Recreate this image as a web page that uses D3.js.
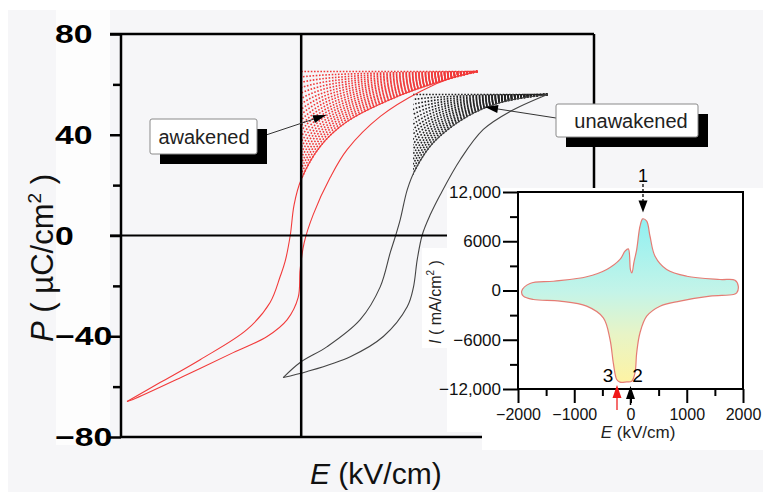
<!DOCTYPE html>
<html lang="en">
<head>
<meta charset="UTF-8">
<title>P-E loops, awakened vs unawakened</title>
<script src="https://d3js.org/d3.v7.min.js"></script>
<style>
  body { margin: 0; background: #fff; }
  text { font-family: Arial, "Liberation Sans", sans-serif; }
</style>
</head>
<body>
<svg width="763" height="492"></svg>
<script>
// ---- main P-E loops, [E (kV/cm), P (uC/cm2)] ----
const awakenedUp = [[-1160,-65.9],[-1120,-65.1],[-787,-56],[-453,-46.5],[-227,-40.1],[-93,-33.4],[-20,-24.6],[-7,-13.5],[20,-2.8],[80,8.3],[193,23],[307,34.2],[527,47.3],[793,57.2],[1013,62.8],[1173,65.1]];
const awakenedDown = [[1173,65.1],[927,61.2],[640,55.2],[307,45.3],[127,35.4],[0,22.2],[-47,12.3],[-73,0],[-107,-10.3],[-140,-16.3],[-207,-26.6],[-360,-37.3],[-673,-49.3],[-940,-58.4],[-1160,-65.9]];
const unawakenedUp = [[-120,-56.4],[40,-54],[327,-48.1],[547,-40.1],[707,-28.2],[747,-20.7],[773,-9.5],[807,0.4],[860,8.3],[927,16.3],[1060,30.2],[1213,42.1],[1393,49.3],[1640,56]];
const unawakenedDown = [[1640,56],[1327,52.8],[1107,47.3],[880,36.9],[760,26.2],[707,18.3],[660,6.4],[627,-0.4],[593,-6.8],[527,-20.3],[393,-33.4],[173,-44.1],[-7,-50.4],[-120,-56.4]];
const hatchStartE = { awakened: 0, unawakened: 745 };

const pTicks = [80, 40, 0, -40, -80];
const pMinor = [60, 20, -20, -60];

// ---- inset I-E curve, [E (kV/cm), I (mA/cm2)] ----
const insetLoop = [[-1934,-85],[-1787,850],[-1372,1130],[-779,1670],[-423,2560],[-187,3780],[-98,4790],[-39,5070],[0,2500],[25,2150],[60,3400],[110,4990],[169,7830],[217,8730],[288,8440],[347,6610],[436,4180],[643,2560],[999,1740],[1591,1340],[1858,1260],[1916,525],[1888,-280],[1828,-490],[1413,-690],[880,-1300],[524,-1910],[288,-3130],[169,-5150],[110,-7590],[80,-10030],[21,-11050],[-68,-11130],[-187,-11170],[-245,-10840],[-306,-8810],[-364,-5970],[-483,-3330],[-779,-1910],[-1253,-1300],[-1727,-1100],[-1905,-690]];
const insetXTicks = [-2000, -1000, 0, 1000, 2000];
const insetXMinor = [-1500, -500, 500, 1500];
const insetYTicks = [12000, 6000, 0, -6000, -12000];
const insetYMinor = [9000, 3000, -3000, -9000];
const peakMarks = [{ label: "1", E: 222 }, { label: "2", E: 0 }, { label: "3", E: -240 }];

const svg = d3.select("svg");

// background
svg.append("rect").attr("x", 8).attr("y", 10).attr("width", 755).attr("height", 482).attr("fill", "#f6f6f8");
svg.append("rect").attr("x", 56).attr("y", 10).attr("width", 54).attr("height", 435).attr("fill", "#fdfdfd");

const x = d3.scaleLinear().domain([-1200, 1950]).range([121, 594]);
const y = d3.scaleLinear().domain([-80, 80]).range([437, 34]);

const line = d3.line().x(d => x(d[0])).y(d => y(d[1])).curve(d3.curveCatmullRom.alpha(0.5));

// hatching (dotted curves between the tip level and the descending branch)
function hatch(branch, startE, n, color, id) {
  const tip = branch[0];
  svg.append("clipPath").attr("id", id)
    .append("rect").attr("x", x(startE)).attr("y", y(tip[1]) - 3)
    .attr("width", x(tip[0]) - x(startE) + 3).attr("height", y(-80) - y(tip[1]));
  const yTop = y(tip[1]);
  const g = svg.append("g").attr("clip-path", `url(#${id})`);
  for (let k = 0; k <= n; k++) {
    const t = k / n;
    const hl = d3.line().x(d => x(d[0])).y(d => yTop + t * (y(d[1]) - yTop)).curve(d3.curveCatmullRom.alpha(0.5));
    g.append("path").attr("d", k === 0 ? `M${x(startE)},${yTop}H${x(tip[0])}` : hl(branch))
      .attr("fill", "none").attr("stroke", color).attr("stroke-width", 1.6)
      .attr("stroke-dasharray", "1.6 1.6");
  }
}
hatch(awakenedDown, hatchStartE.awakened, 20, "#f03a3a", "clipRed");
hatch(unawakenedDown, hatchStartE.unawakened, 16, "#222", "clipBlack");

[[awakenedUp, "#f23a3a"], [awakenedDown, "#f23a3a"], [unawakenedUp, "#444"], [unawakenedDown, "#444"]]
  .forEach(([d, c]) => svg.append("path").attr("d", line(d)).attr("fill", "none").attr("stroke", c).attr("stroke-width", 1.1));

// frame and axes
const frame = svg.append("g").attr("stroke", "#000").attr("stroke-width", 2.5);
frame.append("line").attr("x1", 110).attr("x2", 594).attr("y1", 34).attr("y2", 34);
frame.append("line").attr("x1", 121).attr("x2", 594).attr("y1", 437).attr("y2", 437);
frame.append("line").attr("x1", 121).attr("x2", 121).attr("y1", 34).attr("y2", 437);
frame.append("line").attr("x1", 594).attr("x2", 594).attr("y1", 34).attr("y2", 437);
frame.append("line").attr("x1", 110).attr("x2", 594).attr("y1", y(0)).attr("y2", y(0)).attr("stroke-width", 2);
frame.append("line").attr("x1", x(0)).attr("x2", x(0)).attr("y1", 34).attr("y2", 437);

const yMaj = svg.append("g").attr("transform", "translate(121,0)")
  .call(d3.axisLeft(y).tickValues(pTicks).tickSize(11).tickFormat(""));
const yMin = svg.append("g").attr("transform", "translate(121,0)")
  .call(d3.axisLeft(y).tickValues(pMinor).tickSize(8).tickFormat(""));
[yMaj, yMin].forEach(g => { g.select(".domain").remove(); g.selectAll("line").attr("stroke-width", 2.5); });

svg.append("g").selectAll("text").data(pTicks).join("text")
  .attr("transform", d => `translate(55,${y(d) + 9}) scale(1.35,1)`)
  .attr("font-size", 25).attr("font-weight", "bold")
  .text(d => d3.format("")(d));

// axis titles
const yt = svg.append("text").attr("transform", "translate(53,258) rotate(-90)")
  .attr("text-anchor", "middle").attr("font-size", 31).attr("fill", "#111");
yt.append("tspan").attr("font-style", "italic").text("P");
yt.append("tspan").text(" ( \u00b5C/cm");
yt.append("tspan").attr("font-size", 19).attr("dy", -12).text("2");
yt.append("tspan").attr("dy", 12).text(" )");

const xt = svg.append("text").attr("x", 310).attr("y", 484).attr("font-size", 30).attr("fill", "#111");
xt.append("tspan").attr("font-style", "italic").text("E");
xt.append("tspan").text(" (kV/cm)");

// legend boxes with leaders
function arrowHead(g, x1, y1, x2, y2, len, w) {
  const a = Math.atan2(y2 - y1, x2 - x1);
  const bx = x2 - len * Math.cos(a), by = y2 - len * Math.sin(a);
  const px = -Math.sin(a) * w / 2, py = Math.cos(a) * w / 2;
  g.append("path").attr("d", `M${x2},${y2}L${bx + px},${by + py}L${bx - px},${by - py}Z`).attr("fill", "#000");
}
function tag(bx, by, w, h, label, tx, ty, fromX, fromY, tipX, tipY) {
  const g = svg.append("g");
  g.append("line").attr("x1", fromX).attr("y1", fromY).attr("x2", tipX).attr("y2", tipY)
    .attr("stroke", "#333").attr("stroke-width", 1);
  arrowHead(g, fromX, fromY, tipX, tipY, 13, 8);
  g.append("rect").attr("x", bx + 10).attr("y", by + 10).attr("width", w).attr("height", h).attr("fill", "#000");
  g.append("rect").attr("x", bx).attr("y", by).attr("width", w).attr("height", h).attr("rx", 2)
    .attr("fill", "#fff").attr("stroke", "#8a8a8a").attr("stroke-width", 1);
  g.append("text").attr("x", tx).attr("y", ty).attr("text-anchor", "middle").attr("font-size", 20).attr("fill", "#222").text(label);
}
tag(150, 119, 107, 35, "awakened", 204, 144, 257, 138, 326, 115);
tag(556, 104, 142, 33, "unawakened", 631, 128, 556, 118, 485, 107);

// ---- inset ----
svg.append("rect").attr("x", 447).attr("y", 188).attr("width", 316).attr("height", 244).attr("fill", "#fff");
svg.append("rect").attr("x", 482).attr("y", 430).attr("width", 281).attr("height", 20).attr("fill", "#fff");
svg.append("rect").attr("x", 422).attr("y", 248).attr("width", 26).attr("height", 100).attr("fill", "#fff");

const xi = d3.scaleLinear().domain([-2000, 2000]).range([518, 743]);
const yi = d3.scaleLinear().domain([-12000, 12000]).range([389, 192]);

const grad = svg.append("defs").append("linearGradient").attr("id", "insetFill")
  .attr("gradientUnits", "userSpaceOnUse").attr("x1", 0).attr("x2", 0).attr("y1", yi(9000)).attr("y2", yi(-11500));
[[0, "#8ff0f2"], [0.45, "#c4f4e8"], [0.7, "#e8f4c6"], [1, "#fff3a2"]]
  .forEach(([o, c]) => grad.append("stop").attr("offset", o).attr("stop-color", c));

const iline = d3.line().x(d => xi(d[0])).y(d => yi(d[1])).curve(d3.curveCatmullRomClosed.alpha(0.5));
svg.append("path").attr("d", iline(insetLoop)).attr("fill", "url(#insetFill)")
  .attr("stroke", "#e57c74").attr("stroke-width", 1.2);

svg.append("rect").attr("x", 518).attr("y", 192).attr("width", 225).attr("height", 197)
  .attr("fill", "none").attr("stroke", "#000").attr("stroke-width", 2);

const iFmt = v => Math.abs(v) >= 10000 ? d3.format(",")(v) : d3.format("")(v);
const ixMaj = svg.append("g").attr("transform", "translate(0,389)")
  .call(d3.axisBottom(xi).tickValues(insetXTicks).tickSize(14).tickPadding(6).tickFormat(d3.format("")));
const ixMin = svg.append("g").attr("transform", "translate(0,389)")
  .call(d3.axisBottom(xi).tickValues(insetXMinor).tickSize(7).tickFormat(""));
const iyMaj = svg.append("g").attr("transform", "translate(518,0)")
  .call(d3.axisLeft(yi).tickValues(insetYTicks).tickSize(15).tickPadding(2).tickFormat(iFmt));
const iyMin = svg.append("g").attr("transform", "translate(518,0)")
  .call(d3.axisLeft(yi).tickValues(insetYMinor).tickSize(8).tickFormat(""));
[ixMaj, ixMin, iyMaj, iyMin].forEach(g => {
  g.select(".domain").remove();
  g.selectAll("line").attr("stroke", "#000").attr("stroke-width", 2);
  g.selectAll("text").attr("font-family", "Arial, 'Liberation Sans', sans-serif").attr("fill", "#111");
});
ixMaj.selectAll("text").attr("font-size", 16);
iyMaj.selectAll("text").attr("font-size", 17);

const ixt = svg.append("text").attr("x", 638).attr("y", 438).attr("text-anchor", "middle").attr("font-size", 17).attr("fill", "#222");
ixt.append("tspan").attr("font-style", "italic").text("E");
ixt.append("tspan").text(" (kV/cm)");

const iyt = svg.append("text").attr("transform", "translate(441,302) rotate(-90)")
  .attr("text-anchor", "middle").attr("font-size", 16).attr("fill", "#222");
iyt.append("tspan").attr("font-style", "italic").text("I");
iyt.append("tspan").text(" ( mA/cm");
iyt.append("tspan").attr("font-size", 10).attr("dy", -7).text("2");
iyt.append("tspan").attr("dy", 7).text(" )");

// peak markers
const pk = svg.append("g");
const m1 = peakMarks[0], m2 = peakMarks[1], m3 = peakMarks[2];
pk.append("line").attr("x1", xi(m1.E)).attr("x2", xi(m1.E)).attr("y1", 184).attr("y2", 204)
  .attr("stroke", "#000").attr("stroke-width", 1.3).attr("stroke-dasharray", "3 2");
arrowHead(pk, xi(m1.E), 190, xi(m1.E), yi(9500), 12, 9);
pk.append("text").attr("x", xi(m1.E)).attr("y", 182).attr("text-anchor", "middle").attr("font-size", 18).text(m1.label);

pk.append("line").attr("x1", xi(m3.E)).attr("x2", xi(m3.E)).attr("y1", 410).attr("y2", 395).attr("stroke", "#f02020").attr("stroke-width", 1.3);
pk.append("path").attr("d", `M${xi(m3.E)},385L${xi(m3.E) - 4.5},398L${xi(m3.E) + 4.5},398Z`).attr("fill", "#f01818");
pk.append("line").attr("x1", xi(m2.E)).attr("x2", xi(m2.E)).attr("y1", 405).attr("y2", 395).attr("stroke", "#000").attr("stroke-width", 1.5);
pk.append("path").attr("d", `M${xi(m2.E)},386L${xi(m2.E) - 4.5},399L${xi(m2.E) + 4.5},399Z`).attr("fill", "#000");
pk.append("text").attr("x", xi(m3.E) - 9).attr("y", 382).attr("text-anchor", "middle").attr("font-size", 19).text(m3.label);
pk.append("text").attr("x", xi(m2.E) + 7).attr("y", 382).attr("text-anchor", "middle").attr("font-size", 19).text(m2.label);
</script>
</body>
</html>
